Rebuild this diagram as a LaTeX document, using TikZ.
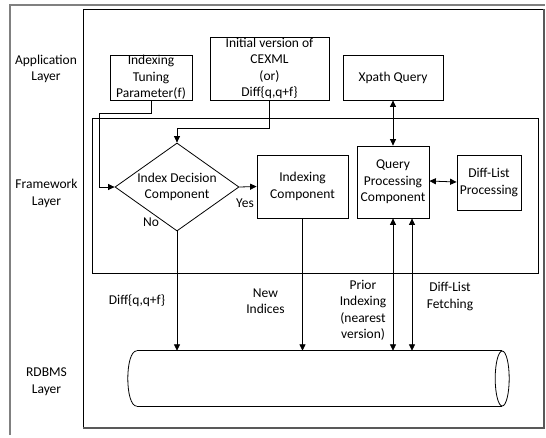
\documentclass[tikz,border=0pt]{standalone}
\usepackage{fontspec}
\setmainfont{Carlito}
\usetikzlibrary{arrows.meta,shapes.geometric}
\tikzset{
  txt/.style={font=\fontsize{13.5}{16.5}\selectfont, align=center, inner sep=0pt},
  box/.style={txt, draw, line width=0.8pt, rectangle},
  lbl/.style={txt},
  tipA/.tip={Triangle[length=6.5pt,width=6pt]},
  arr/.style={line width=0.8pt, -tipA},
  darr/.style={line width=0.8pt, tipA-tipA},
  line/.style={line width=0.8pt},
}
\begin{document}
\begin{tikzpicture}[x=1pt,y=-1pt]
\useasboundingbox (0,0) rectangle (546,437);
% frames
\draw[gray, line width=1.5pt] (10,435) -- (10,5) -- (545,5);
\draw[line width=0.9pt] (83,428) -- (83,9) -- (544,9);
\draw[gray!70!black, line width=1.3pt] (544,9) -- (544,428) -- (83,428);
\draw[line] (92,118) rectangle (538,273);
% layer labels
\node[lbl] (lapp) at (46,69) {Application\\Layer};
\node[lbl] (lfw) at (46.5,193.5) {Framework\\Layer};
\node[lbl] (lrdb) at (46.5,381.5) {RDBMS\\Layer};
% boxes
\node[box, minimum width=82pt, minimum height=45pt] (tune) at (151,77.5) {Indexing\\Tuning\\Parameter(f)};
\node[box, minimum width=119pt, minimum height=63pt] (init) at (269.5,68.5) {Initial version of\\CEXML\\(or)\\Diff\{q,q+f\}};
\node[box, minimum width=100pt, minimum height=45pt] (xq) at (393,77.5) {Xpath Query};
\node[txt, draw, line width=0.8pt, shape=diamond, aspect=1.41, minimum width=124pt, minimum height=88pt] (dec) at (177,187) {Index Decision\\Component};
\node[box, minimum width=91pt, minimum height=63pt] (idx) at (302.5,186.5) {Indexing\\Component};
\node[box, minimum width=72pt, minimum height=72pt] (qp) at (393,182) {Query\\Processing\\Component};
\node[box, minimum width=64pt, minimum height=55pt] (dl) at (489,182.5) {Diff-List\\Processing};
% database cylinder
\node[inner sep=0pt, minimum width=365pt, minimum height=55pt] (db) at (319.5,378.5) {};
\draw[line] (db.north west) -- (db.north east);
\draw[line] (db.south west) -- (db.south east);
\draw[line] (db.north west) .. controls +(-12,0) and +(-12,0) .. (db.south west);
\draw[line] (db.east) ellipse [x radius=7pt, y radius=27.5pt];
% connectors
\draw[arr] (tune.south) -- ++(0,13) -| ([xshift=-15pt]dec.west) -- (dec.west);
\draw[arr] (init.south) -- ++(0,28) -| (dec.north);
\draw[arr] (dec.east) -- (idx.west);
\draw[arr] (dec.south) -- (dec.south |- db.north);
\draw[arr] (idx.south) -- (idx.south |- db.north);
\draw[darr] (xq.south) -- (qp.north);
\draw[darr] ([yshift=1pt]qp.east) -- ([yshift=0.5pt]dl.west);
\draw[darr] (qp.south) -- (qp.south |- db.north);
\draw[darr] ([xshift=19pt]qp.south) -- ([xshift=19pt]qp.south |- db.north);
% labels
\node[lbl] (yes) at (245,203) {Yes};
\node[lbl] (no) at (151,222) {No};
\node[lbl] (ldiff) at (137,301) {Diff\{q,q+f\}};
\node[lbl] (lnew) at (265.5,301) {New\\Indices};
\node[lbl] (lprior) at (363,310.5) {Prior\\Indexing\\(nearest\\version)};
\node[lbl] (lfetch) at (450,296.5) {Diff-List\\Fetching};
\end{tikzpicture}
\end{document}
